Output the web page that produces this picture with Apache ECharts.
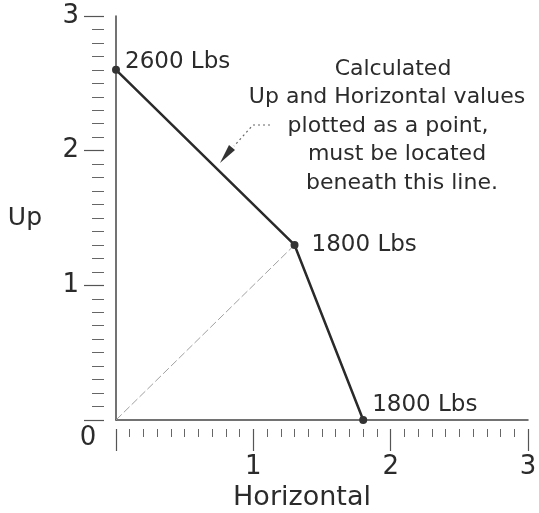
<!DOCTYPE html>
<html>
<head>
<meta charset="utf-8">
<script src="https://cdn.jsdelivr.net/npm/echarts@6/dist/echarts.min.js"></script>
<style>
html, body { margin: 0; padding: 0; background: #fff; }
#chart { width: 539px; height: 513px; }
</style>
</head>
<body>
<div id="chart"></div>
<script>
// limit line: Horizontal vs Up, with the load at each corner
var horizontal = [0, 1.3, 1.8];
var up = [2.6, 1.3, 0];
var loads = ['2600 Lbs', '1800 Lbs', '1800 Lbs'];
// faint guide from the origin to the knee
var guideX = [0, 1.3];
var guideY = [0, 1.3];
var tickLabels = ['0', '1', '2', '3'];
var noteLines = ['Calculated', 'Up and Horizontal values', 'plotted as a point,', 'must be located', 'beneath this line.'];

var font = 'DejaVu Sans';
var ink = '#2b2b2b';
var chart = echarts.init(document.getElementById('chart'));

var labelOffsets = [[0, -8], [8, 0], [0, -15]];
var limitData = horizontal.map(function (x, i) {
  return {
    value: [x, up[i]],
    label: { show: true, formatter: loads[i], position: 'right', distance: 5, offset: labelOffsets[i] }
  };
});
var guideData = guideX.map(function (x, i) { return [x, guideY[i]]; });

function tickText(v) { return v === 0 ? '' : tickLabels[v]; }

option = {
  animation: false,
  backgroundColor: '#fff',
  grid: { left: 116, top: 16, width: 412, height: 404, containLabel: false, outerBoundsMode: 'none' },
  xAxis: [
    {
      type: 'value', min: 0, max: 3, interval: 1,
      axisLine: { show: true, onZero: false, lineStyle: { color: '#444', width: 1.5 } },
      axisTick: { show: false }, axisLabel: { show: false }, splitLine: { show: false }
    },
    {
      type: 'value', min: 0, max: 3, interval: 1, position: 'bottom', offset: 9,
      axisLine: { show: false, onZero: false },
      axisTick: { show: true, length: 22, lineStyle: { color: '#555', width: 1.2 } },
      minorTick: { show: true, splitNumber: 10, length: 8, lineStyle: { color: '#666', width: 1 } },
      axisLabel: { margin: 25, fontSize: 26, fontFamily: font, color: ink, formatter: tickText },
      splitLine: { show: false },
      name: 'Horizontal', nameLocation: 'middle', nameGap: 54,
      nameTextStyle: { fontSize: 27, fontFamily: font, color: ink, padding: [0, 40, 0, 0] }
    }
  ],
  yAxis: [
    {
      type: 'value', min: 0, max: 3, interval: 1,
      axisLine: { show: true, onZero: false, lineStyle: { color: '#444', width: 1.5 } },
      axisTick: { show: false }, axisLabel: { show: false }, splitLine: { show: false },
      name: 'Up', nameLocation: 'middle', nameRotate: 0, nameGap: 74,
      nameTextStyle: { fontSize: 25, fontFamily: font, color: ink, padding: [12, 0, 0, 0] }
    },
    {
      type: 'value', min: 0, max: 3, interval: 1, position: 'left', offset: 12,
      axisLine: { show: false, onZero: false },
      axisTick: { show: true, length: 20, lineStyle: { color: '#555', width: 1.2 } },
      minorTick: { show: true, splitNumber: 10, length: 12, lineStyle: { color: '#666', width: 1 } },
      axisLabel: { margin: 25, fontSize: 26, fontFamily: font, color: ink, formatter: tickText },
      splitLine: { show: false }
    }
  ],
  series: [
    {
      type: 'line', data: guideData, symbol: 'none',
      lineStyle: { color: '#a0a0a0', width: 1, type: [8, 3] }
    },
    {
      type: 'line', data: limitData, symbol: 'circle', symbolSize: 8,
      itemStyle: { color: '#333' },
      lineStyle: { color: '#2a2a2a', width: 2.5 },
      label: { fontSize: 23, fontFamily: font, color: ink }
    }
  ]
};
chart.setOption(option);

// note text, leader and the shared "0" at the corner
var noteX = [393, 387, 388, 397, 402];
var graphics = noteLines.map(function (t, i) {
  return {
    type: 'text', x: noteX[i], y: 69 + i * 28.5,
    style: { text: t, font: '22px "DejaVu Sans"', fill: ink, textAlign: 'center', textVerticalAlign: 'middle' }
  };
});
var origin = chart.convertToPixel({ gridIndex: 0 }, [0, 0]);
graphics.push({
  type: 'text', x: origin[0] - 28, y: origin[1] + 18,
  style: { text: tickLabels[0], font: '26px "DejaVu Sans"', fill: ink, textAlign: 'center', textVerticalAlign: 'middle' }
});
graphics.push({
  type: 'polyline', shape: { points: [[270, 125], [253, 125], [234, 146]] },
  style: { stroke: '#666', lineWidth: 1.2, lineDash: [2, 3], fill: null }
});
graphics.push({
  type: 'polygon', shape: { points: [[220, 163], [235, 150], [229, 145]] },
  style: { fill: '#333' }
});
chart.setOption({ graphic: graphics });
</script>
</body>
</html>
